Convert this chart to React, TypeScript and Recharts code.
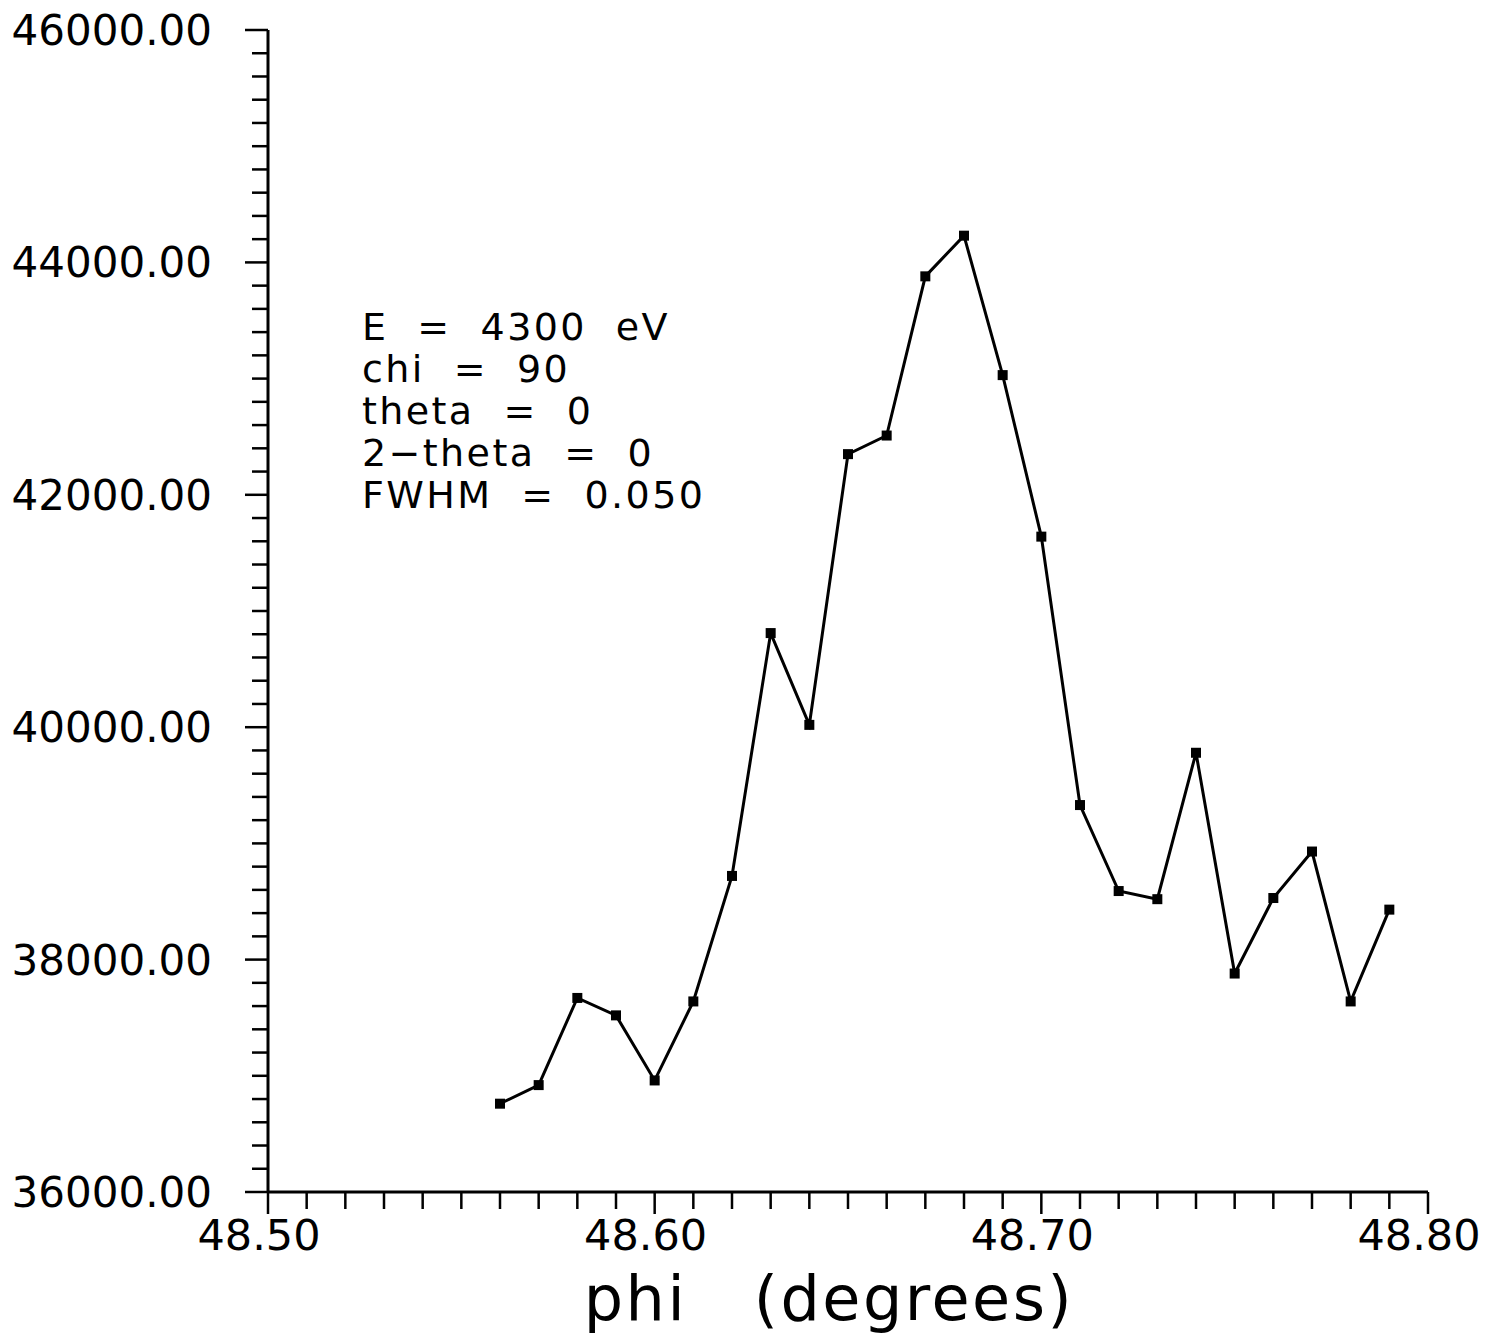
import { Customized, Line, LineChart, XAxis, YAxis } from "recharts";

const phi = [
  48.56, 48.57, 48.58, 48.59, 48.6, 48.61, 48.62, 48.63, 48.64, 48.65, 48.66, 48.67,
  48.68, 48.69, 48.7, 48.71, 48.72, 48.73, 48.74, 48.75, 48.76, 48.77, 48.78, 48.79,
];
const counts = [
  36760, 36920, 37670, 37520, 36960, 37640, 38720, 40810, 40020, 42350, 42510, 43880,
  44230, 43030, 41640, 39330, 38590, 38520, 39780, 37880, 38530, 38930, 37640, 38430,
];
const xTicks = Array.from({ length: 31 }, (_, i) => Math.round((48.5 + i * 0.01) * 100) / 100);
const yTicks = Array.from({ length: 51 }, (_, i) => 36000 + i * 200);
const notes = [
  "E\u00a0\u00a0=\u00a0\u00a04300\u00a0\u00a0eV",
  "chi\u00a0\u00a0=\u00a0\u00a090",
  "theta\u00a0\u00a0=\u00a0\u00a00",
  "2\u2212theta\u00a0\u00a0=\u00a0\u00a00",
  "FWHM\u00a0\u00a0=\u00a0\u00a00.050",
];
const xTitle = "phi\u00a0\u00a0\u00a0(degrees)";

const data = phi.map((p, i) => ({ phi: p, counts: counts[i] }));
const font = "'DejaVu Sans', sans-serif";

function XTick({ x, y, payload }: any) {
  const v = payload.value as number;
  const major = Math.round(v * 100) % 10 === 0;
  return (
    <g>
      <line x1={x} x2={x} y1={y} y2={y + (major ? 22 : 17)} stroke="#000" strokeWidth={2.5} />
      {major && (
        <text x={x - 9} y={y + 58} textAnchor="middle" fontSize={43} fontFamily={font} fill="#000">
          {v.toFixed(2)}
        </text>
      )}
    </g>
  );
}

function YTick({ x, y, payload }: any) {
  const v = payload.value as number;
  const major = v % 2000 === 0;
  return (
    <g>
      <line x1={x} x2={x - (major ? 23 : 16)} y1={y} y2={y} stroke="#000" strokeWidth={2.5} />
      {major && (
        <text x={x - 56} y={y + 15} textAnchor="end" fontSize={42} fontFamily={font} fill="#000">
          {v.toFixed(2)}
        </text>
      )}
    </g>
  );
}

function Square({ cx, cy }: any) {
  if (cx == null || cy == null) return null;
  return <rect x={cx - 5} y={cy - 5} width={10} height={10} fill="#000" />;
}

function Texts() {
  return (
    <g fontFamily={font} fill="#000">
      {notes.map((t, i) => (
        <text key={t} x={362} y={340 + i * 42} fontSize={38} letterSpacing={2.4}>
          {t}
        </text>
      ))}
      <text x={829} y={1320} textAnchor="middle" fontSize={62} letterSpacing={2.5}>
        {xTitle}
      </text>
    </g>
  );
}

export default function App() {
  return (
    <div style={{ position: "absolute", left: 0, top: 0, background: "#fff" }}>
      <LineChart
        width={1485}
        height={1337}
        data={data}
        margin={{ top: 30, right: 57, bottom: 0, left: 0 }}
      >
        <XAxis
          type="number"
          dataKey="phi"
          domain={[48.5, 48.8]}
          ticks={xTicks}
          interval={0}
          tick={<XTick />}
          tickSize={0}
          tickMargin={0}
          tickLine={false}
          axisLine={{ stroke: "#000", strokeWidth: 3 }}
          height={145}
          allowDataOverflow
        />
        <YAxis
          type="number"
          domain={[36000, 46000]}
          ticks={yTicks}
          interval={0}
          tick={<YTick />}
          tickSize={0}
          tickMargin={0}
          tickLine={false}
          axisLine={{ stroke: "#000", strokeWidth: 3 }}
          width={268}
          allowDataOverflow
        />
        <Line
          type="linear"
          dataKey="counts"
          stroke="#000"
          strokeWidth={3}
          dot={<Square />}
          activeDot={false}
          isAnimationActive={false}
        />
        <Customized component={Texts} />
      </LineChart>
    </div>
  );
}
